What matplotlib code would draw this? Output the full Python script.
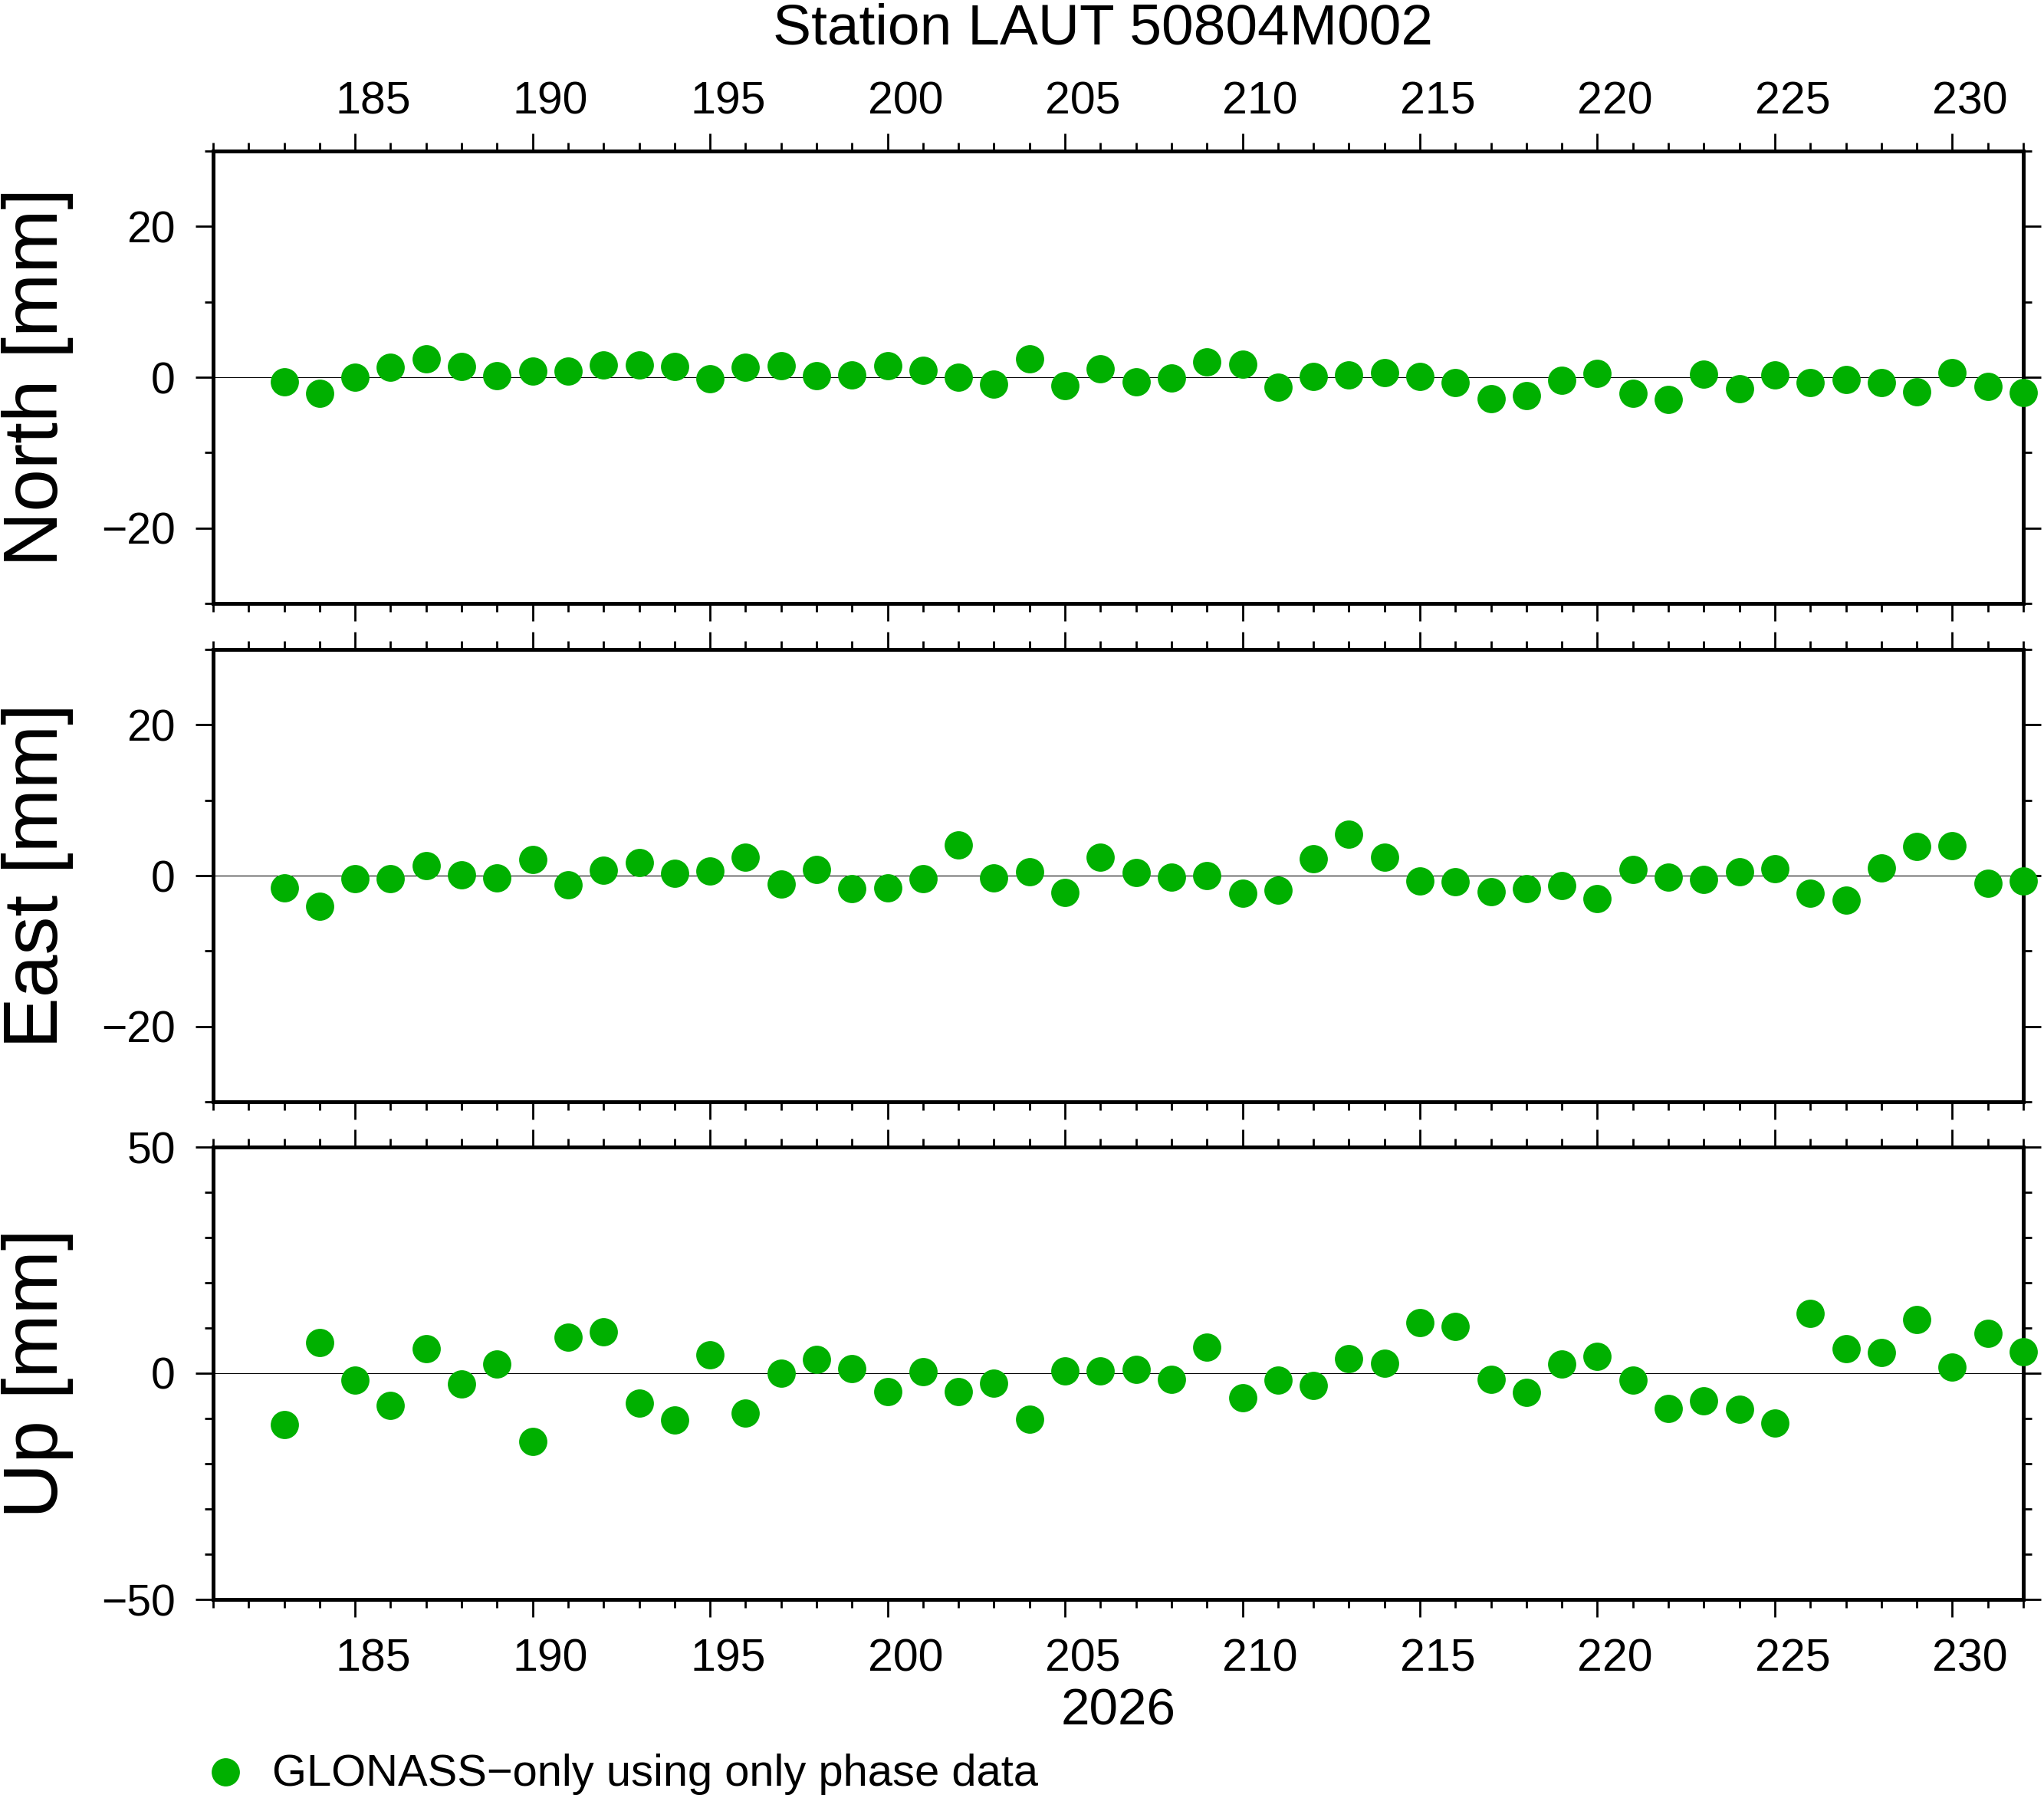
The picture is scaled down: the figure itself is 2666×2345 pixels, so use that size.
import numpy as np
import matplotlib.pyplot as plt
from matplotlib.ticker import MultipleLocator, FixedLocator, NullLocator
from matplotlib.lines import Line2D

plt.rcParams['font.family'] = ['Liberation Sans', 'DejaVu Sans']

# day of year 2026
days = list(range(183, 233))
day_ticks = list(range(185, 231, 5))

north = [-0.6, -2.1, 0.0, 1.3, 2.4, 1.4, 0.2, 0.8, 0.8, 1.6,
         1.6, 1.4, -0.2, 1.3, 1.5, 0.2, 0.3, 1.5, 0.9, 0.0,
         -0.9, 2.4, -1.1, 1.1, -0.6, -0.1, 2.0, 1.7, -1.3, 0.1,
         0.3, 0.6, 0.1, -0.7, -2.8, -2.4, -0.4, 0.5, -2.1, -2.9,
         0.4, -1.5, 0.3, -0.7, -0.3, -0.7, -1.9, 0.6, -1.2, -2.0]

east = [-1.6, -4.1, -0.4, -0.4, 1.3, 0.1, -0.3, 2.1, -1.2, 0.7,
        1.7, 0.3, 0.6, 2.4, -1.1, 0.8, -1.7, -1.6, -0.4, 4.1,
        -0.3, 0.5, -2.2, 2.4, 0.4, -0.2, 0.0, -2.3, -1.9, 2.2,
        5.5, 2.4, -0.7, -0.8, -2.1, -1.7, -1.3, -3.1, 0.8, -0.2,
        -0.5, 0.5, 0.9, -2.3, -3.3, 1.0, 3.9, 4.0, -1.0, -0.7]

up = [-11.3, 6.8, -1.5, -7.1, 5.4, -2.3, 2.1, -15.1, 8.0, 9.2,
      -6.6, -10.3, 4.1, -8.8, 0.0, 3.0, 1.0, -4.0, 0.3, -4.1,
      -2.2, -10.2, 0.5, 0.5, 0.9, -1.3, 5.8, -5.4, -1.5, -2.7,
      3.3, 2.2, 11.2, 10.3, -1.3, -4.2, 2.1, 3.8, -1.5, -7.8,
      -6.1, -8.0, -11.0, 13.2, 5.4, 4.6, 11.9, 1.3, 8.8, 4.8]

components = ['North', 'East', 'Up']
series = [north, east, up]
ylims = [30, 30, 50]
ymajor = [20, 20, 50]

title = 'Station LAUT 50804M002'
year_label = '2026'
legend_label = 'GLONASS\u2212only using only phase data'
green = '#00b000'

W, H = 2666, 2345
fig = plt.figure(figsize=(W / 100, H / 100), dpi=100)

left = 278 / W
width = (2639 - 278) / W
tops = [197, 847, 1496]
ph = 590


def day_labels(ax, where, pad):
    # GMT puts the day annotation in the middle of the day interval
    sec = ax.secondary_xaxis(where, functions=(lambda x: x - 0.5, lambda x: x + 0.5))
    sec.xaxis.set_major_locator(FixedLocator(day_ticks))
    sec.xaxis.set_minor_locator(NullLocator())
    sec.tick_params(which='both', length=0, labelsize=42.5, pad=pad)
    for s in sec.spines.values():
        s.set_visible(False)


for i, (name, vals, lim, maj) in enumerate(zip(components, series, ylims, ymajor)):
    top = tops[i]
    ax = fig.add_axes([left, 1 - (top + ph) / H, width, ph / H])
    ax.axhline(0, color='black', lw=0.8, zorder=1)
    ax.plot(days, vals, 'o', color=green, markersize=26.5, markeredgewidth=0,
            clip_on=False, zorder=3)
    ax.set_xlim(181, 232)
    ax.set_ylim(-lim, lim)
    ax.xaxis.set_major_locator(MultipleLocator(5))
    ax.xaxis.set_minor_locator(MultipleLocator(1))
    ax.yaxis.set_major_locator(MultipleLocator(maj))
    ax.yaxis.set_minor_locator(MultipleLocator(10))
    for s in ax.spines.values():
        s.set_linewidth(3.6)
    ax.tick_params(which='both', direction='out', top=True, bottom=True,
                   left=True, right=True, labelsize=41, width=2.0)
    ax.tick_params(which='major', length=16.5)
    ax.tick_params(which='minor', length=8)
    ax.tick_params(axis='y', pad=19)
    ax.tick_params(axis='x', labeltop=False, labelbottom=False)
    if i == 0:
        day_labels(ax, 'top', 26)
    if i == 2:
        day_labels(ax, 'bottom', 36)
    fig.text(2 / W, 1 - (top + ph / 2) / H, name + ' [mm]', rotation=90,
             ha='left', va='center', fontsize=72)

xc = left + width / 2
fig.text(1438 / W, 1 - 57 / H, title, ha='center', va='baseline', fontsize=54)
fig.text(xc, 1 - 2249 / H, year_label, ha='center', va='baseline', fontsize=48.5)

fig.add_artist(Line2D([294 / W], [1 - 2311 / H], marker='o', color=green,
                      markersize=26.5, markeredgewidth=0, linestyle='none',
                      transform=fig.transFigure))
fig.text(355 / W, 1 - 2329 / H, legend_label, ha='left', va='baseline', fontsize=41.7)

fig.savefig('out.png', dpi=100, facecolor='white')
